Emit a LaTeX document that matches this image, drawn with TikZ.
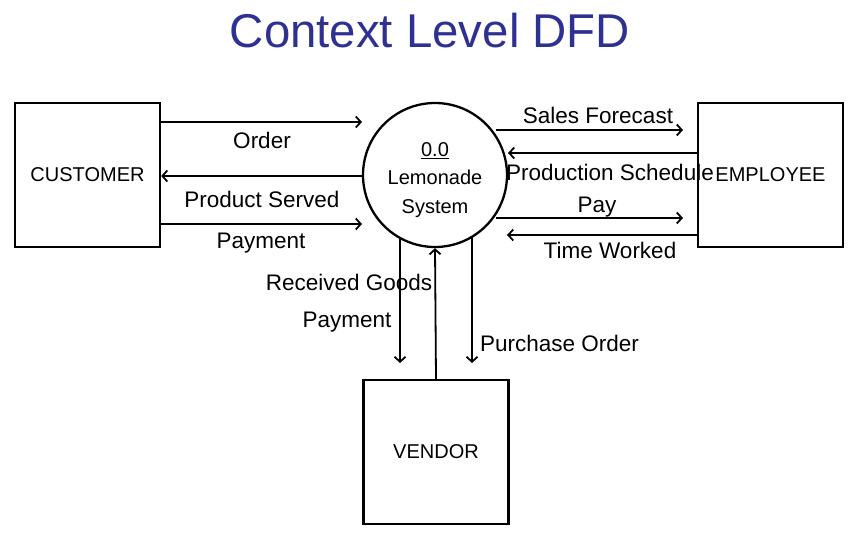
\documentclass[tikz,border=0pt]{standalone}
\usepackage{fontspec}
\setmainfont{Liberation Sans}
\usetikzlibrary{arrows.meta}
\definecolor{titleblue}{RGB}{46,49,146}
\begin{document}
\begin{tikzpicture}[x=1pt,y=1pt,
  entity/.style={draw, line width=2.3pt, rectangle, minimum width=145, minimum height=144, inner sep=0, font=\fontsize{20}{24}\selectfont},
  proc/.style={draw, line width=2.3pt, circle, minimum size=144, inner sep=0},
  proctext/.style={align=center, inner sep=0, font=\fontsize{20}{28.5}\selectfont},
  flow/.style={line width=1.8pt, -{Straight Barb[length=5pt,width=11pt,line width=1.8pt]}},
  lbl/.style={anchor=base, inner sep=0, font=\fontsize{22.5}{27}\selectfont}]
\useasboundingbox (0,0) rectangle (864,-554);
\node[font=\fontsize{47.4}{56}\selectfont, text=titleblue, anchor=base] (title) at (430,-47) {Context Level DFD};

\node[entity] (cust) at (87.5,-175) {CUSTOMER};
\node[entity] (emp) at (770.5,-175) {EMPLOYEE};
\node[entity] (vend) at (436,-452) {VENDOR};
\node[proc] (sys) at (435,-175) {};
\node[proctext] (systext) at ([yshift=-5]sys.center) {\underline{0.0}\\Lemonade\\System};

% free ends
\coordinate (orderEnd) at (362,-122);
\coordinate (payEnd) at (362,-224);
\coordinate (sfStart) at (496,-130);
\coordinate (sfEnd) at (683,-130);
\coordinate (psEnd) at (508,-153);
\coordinate (payStart) at (496,-218);
\coordinate (payEEnd) at (683,-218);
\coordinate (twEnd) at (507,-235);
\coordinate (rgEnd) at (400,-363);
\coordinate (poEnd) at (472,-363);

% customer side
\draw[flow] (cust.east |- orderEnd) -- (orderEnd);
\draw[flow] (sys.west |- 0,-176) ++(0,0) coordinate (psStart) -- (cust.east |- psStart);
\draw[flow] (cust.east |- payEnd) -- (payEnd);

% employee side
\draw[flow] (sfStart) -- (sfEnd);
\draw[flow] (emp.west |- psEnd) -- (psEnd);
\draw[flow] (payStart) -- (payEEnd);
\draw[flow] (emp.west |- twEnd) -- (twEnd);

% vendor side
\draw[flow] (sys.center) ++(-35,-63) coordinate (rgStart) -- (rgEnd);
\draw[flow] (vend.north) -- (sys.south);
\draw[flow] (sys.center) ++(37,-62) coordinate (poStart) -- (poEnd);

% labels
\node[lbl] (lOrder) at (262,-148) {Order};
\node[lbl] (lProd) at (262,-207) {Product Served};
\node[lbl] (lPay) at (261,-248) {Payment};
\node[lbl] (lSF) at (598,-123) {Sales Forecast};
\node[lbl] (lPS) at (610,-180) {Production Schedule};
\node[lbl] (lPayE) at (597,-212) {Pay};
\node[lbl] (lTW) at (610,-258) {Time Worked};
\node[lbl] (lRG) at (349,-290) {Received Goods};
\node[lbl] (lPayV) at (347,-327) {Payment};
\node[lbl, anchor=base west] (lPO) at (480,-351) {Purchase Order};
\end{tikzpicture}
\end{document}
